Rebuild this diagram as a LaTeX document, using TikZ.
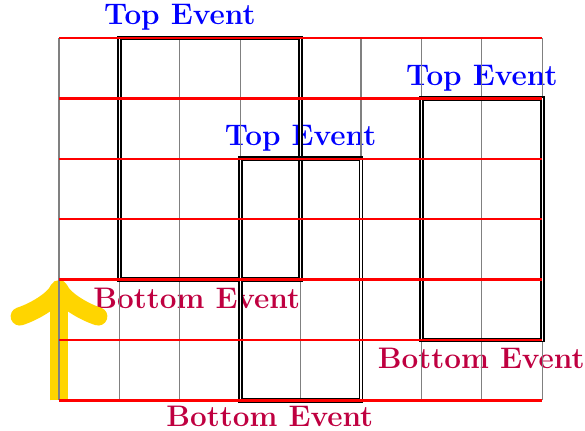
\documentclass[tikz,border=0pt]{standalone}
\definecolor{eventgold}{RGB}{255,213,0}
\begin{document}
\begin{tikzpicture}[
    toplabel/.style={anchor=south, text=blue, font=\fontsize{14}{17}\selectfont\bfseries},
    botlabel/.style={anchor=north, text=purple, font=\fontsize{14}{17}\selectfont\bfseries,
                     inner ysep=0.5pt, outer sep=0pt, yshift=-3.5pt},
    eventbox/.style={draw=black, double=white, double distance=0.6pt, line width=0.85pt},
    timearrow/.style={eventgold, line width=8.6pt},
    x=1cm, y=1cm
]
\useasboundingbox (-0.977,-0.497) rectangle (8.709,6.629);

\def\W{8}   % columns
\def\H{6}   % rows

% ── Labels (under the grid) ──────────────────────────────────────────────────
\node[toplabel] (topA) at (2,6) {Top Event};
\node[toplabel] (topB) at (4,4) {Top Event};
\node[toplabel] (topC) at (7,5) {Top Event};
\node[botlabel] (botA) at (2.28,2) {Bottom Event};
\node[botlabel, yshift=1.5pt] (botB) at (3.49,0) {Bottom Event};
\node[botlabel] (botC) at (6.99,1) {Bottom Event};

% ── Time arrow ───────────────────────────────────────────────────────────────
\coordinate (tstart) at (0,0);
\coordinate (ttip) at (0,1.84);
\coordinate (barbL) at (-0.65,1.39);
\coordinate (barbR) at (0.65,1.39);
\draw[timearrow] (tstart) -- (ttip);
\draw[timearrow, line cap=round, line join=round]
    (barbL) .. controls (-0.40,1.47) and (-0.07,1.67) .. (ttip)
            .. controls (0.07,1.67) and (0.40,1.47) .. (barbR);

% ── Vertical grid lines ──────────────────────────────────────────────────────
\foreach \i in {0,...,\W} {
    \draw[gray, line width=0.5pt] (\i,0) -- (\i,\H);
}

% ── Events ───────────────────────────────────────────────────────────────────
\draw[eventbox] (1,2) rectangle (4,6);
\draw[eventbox] (3,0) rectangle (5,4);
\draw[eventbox] (6,1) rectangle (8,5);

% ── Horizontal grid lines ────────────────────────────────────────────────────
\foreach \j in {0,...,\H} {
    \draw[red, line width=1.1pt] (0,\j) -- (\W,\j);
}

\end{tikzpicture}
\end{document}
